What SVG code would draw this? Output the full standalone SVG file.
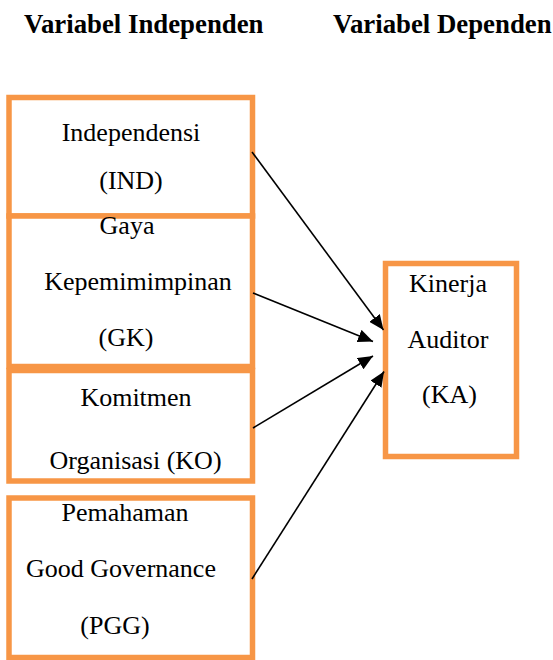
<svg xmlns="http://www.w3.org/2000/svg" width="553" height="660" viewBox="0 0 553 660">
<style>
.box{fill:#fff;stroke:#F79646;stroke-width:5.5}
.t{font-family:"Liberation Serif","Times New Roman",serif;font-size:26px;fill:#000;text-anchor:middle}
.h{font-family:"Liberation Serif","Times New Roman",serif;font-size:26.8px;font-weight:bold;fill:#000}
.c{stroke:#000;stroke-width:1.6;fill:none;marker-end:url(#ah)}
</style>
<defs>
<marker id="ah" markerUnits="userSpaceOnUse" markerWidth="16" markerHeight="13" refX="15" refY="6.5" orient="auto">
<path d="M0,0 L15,6.5 L0,13 z" fill="#000"/>
</marker>
</defs>
<rect width="553" height="660" fill="#fff"/>
<text class="h" x="24" y="33">Variabel Independen</text>
<text class="h" x="333" y="33">Variabel Dependen</text>
<g id="ind">
<rect class="box" x="9" y="97.5" width="243.5" height="118.5"/>
<text class="t" x="131" y="141">Independensi</text>
<text class="t" x="131" y="189">(IND)</text>
</g>
<g id="gk">
<rect class="box" x="9" y="216" width="243.5" height="150.5"/>
<text class="t" x="127" y="234">Gaya</text>
<text class="t" x="138" y="290">Kepemimimpinan</text>
<text class="t" x="126" y="346">(GK)</text>
</g>
<g id="ko">
<rect class="box" x="9" y="370.5" width="243.5" height="110.5"/>
<text class="t" x="136" y="406">Komitmen</text>
<text class="t" x="135.5" y="469">Organisasi (KO)</text>
</g>
<g id="pgg">
<rect class="box" x="9" y="498" width="243.5" height="159.5"/>
<text class="t" x="125" y="521">Pemahaman</text>
<text class="t" x="121" y="577">Good Governance</text>
<text class="t" x="115" y="634">(PGG)</text>
</g>
<g id="ka">
<rect class="box" x="385.5" y="263.5" width="131" height="193"/>
<text class="t" x="448" y="292">Kinerja</text>
<text class="t" x="448" y="348">Auditor</text>
<text class="t" x="449.5" y="403">(KA)</text>
</g>
<g id="connectors">
<line class="c" x1="252" y1="152" x2="383.5" y2="330"/>
<line class="c" x1="253" y1="293" x2="373" y2="341.5"/>
<line class="c" x1="253" y1="428" x2="373" y2="356"/>
<line class="c" x1="252" y1="579" x2="384" y2="371.5"/>
</g>
</svg>
